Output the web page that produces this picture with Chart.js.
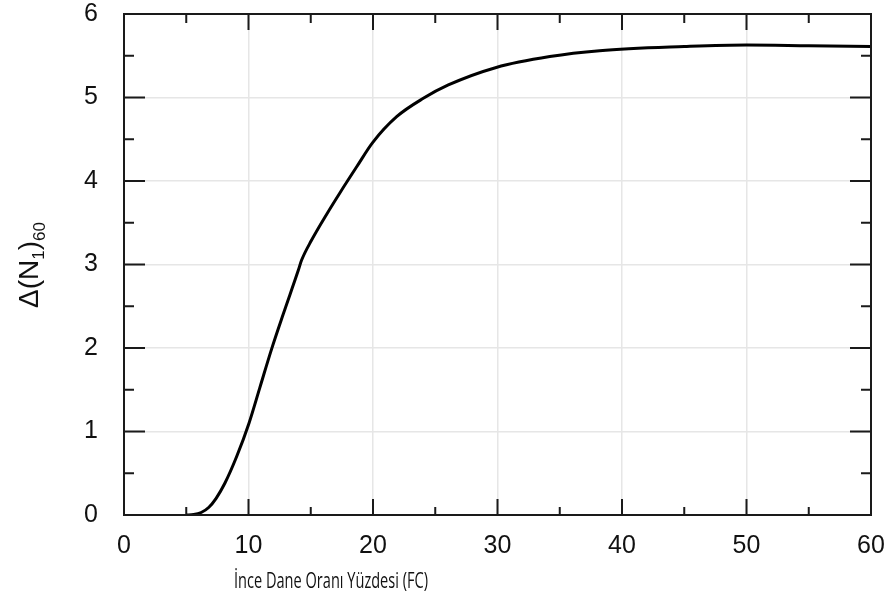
<!DOCTYPE html>
<html>
<head>
<meta charset="utf-8">
<script src="https://cdn.jsdelivr.net/npm/chart.js@4.4.1/dist/chart.umd.min.js"></script>
<style>
html,body{margin:0;padding:0;background:#fff;}
#wrap{width:892px;height:601px;position:relative;}
</style>
</head>
<body>
<div id="wrap"><canvas id="c" width="892" height="601"></canvas></div>
<script>
// Data
const fcValues = [5, 5.6, 6.2, 6.8, 7.4, 8.1, 9.05, 10.04, 10.9, 11.86, 12.8, 14.0, 14.26, 15.06, 16.27, 17.35, 18.69, 19.97, 21.9, 24.04, 26.05, 29.9, 34.2, 38.2, 45, 50, 55, 60];
const deltaN = [0, 0.005, 0.03, 0.09, 0.2, 0.38, 0.7, 1.1, 1.52, 1.99, 2.41, 2.93, 3.05, 3.29, 3.6, 3.86, 4.17, 4.46, 4.77, 4.99, 5.15, 5.36, 5.49, 5.56, 5.61, 5.63, 5.62, 5.61];
const xTickValues = [0, 10, 20, 30, 40, 50, 60];
const yTickValues = [0, 1, 2, 3, 4, 5, 6];
const xTitle = 'İnce Dane Oranı Yüzdesi (FC)';

const points = fcValues.map((x, i) => ({x: x, y: deltaN[i]}));

const tickFont = {family: '"Liberation Sans", Arial, sans-serif', size: 25};

function noPad(s) { s.paddingTop = 0; s.paddingBottom = 0; s.paddingLeft = 0; s.paddingRight = 0; }

const framePlugin = {
  id: 'frame',
  afterDatasetsDraw(chart) {
    const ctx = chart.ctx;
    const a = chart.chartArea;
    const xs = chart.scales.x, ys = chart.scales.y;
    ctx.save();
    ctx.strokeStyle = '#1a1a1a';
    ctx.lineWidth = 2;
    ctx.strokeRect(a.left, a.top, a.right - a.left, a.bottom - a.top);
    for (let i = 0; i < xTickValues.length; i++) {
      const v = xTickValues[i];
      const px = xs.getPixelForValue(v);
      ctx.beginPath();
      ctx.moveTo(px, a.bottom); ctx.lineTo(px, a.bottom - 16);
      ctx.moveTo(px, a.top); ctx.lineTo(px, a.top + 16);
      ctx.stroke();
      if (i < xTickValues.length - 1) {
        const m = xs.getPixelForValue((v + xTickValues[i + 1]) / 2);
        ctx.beginPath();
        ctx.moveTo(m, a.bottom); ctx.lineTo(m, a.bottom - 8);
        ctx.moveTo(m, a.top); ctx.lineTo(m, a.top + 9);
        ctx.stroke();
      }
    }
    for (let i = 0; i < yTickValues.length; i++) {
      const v = yTickValues[i];
      const py = ys.getPixelForValue(v);
      ctx.beginPath();
      ctx.moveTo(a.left, py); ctx.lineTo(a.left + 21, py);
      ctx.moveTo(a.right, py); ctx.lineTo(a.right - 21, py);
      ctx.stroke();
      if (i < yTickValues.length - 1) {
        const m = ys.getPixelForValue((v + yTickValues[i + 1]) / 2);
        ctx.beginPath();
        ctx.moveTo(a.left, m); ctx.lineTo(a.left + 10, m);
        ctx.moveTo(a.right, m); ctx.lineTo(a.right - 10, m);
        ctx.stroke();
      }
    }
    ctx.restore();
  },
  afterDraw(chart) {
    const ctx = chart.ctx;
    ctx.save();
    // x-axis title (condensed)
    ctx.fillStyle = '#111';
    ctx.font = '22px "Open Sans", sans-serif';
    ctx.textAlign = 'left';
    ctx.textBaseline = 'alphabetic';
    const w = ctx.measureText(xTitle).width;
    const k = 194 / w;
    ctx.translate(234, 588);
    ctx.scale(k, 1);
    ctx.fillText(xTitle, 0, 0);
    ctx.restore();

    // y-axis title with subscripts, rotated
    ctx.save();
    ctx.fillStyle = '#111';
    ctx.translate(38, 265);
    ctx.rotate(-Math.PI / 2);
    const big = '28px "Liberation Sans", Arial, sans-serif';
    const small = '17px "Liberation Sans", Arial, sans-serif';
    const parts = [
      {t: 'Δ(N', f: big, dy: 0},
      {t: '1', f: small, dy: 6},
      {t: ')', f: big, dy: 0},
      {t: '60', f: small, dy: 7}
    ];
    let total = 0;
    parts.forEach(p => { ctx.font = p.f; p.w = ctx.measureText(p.t).width; total += p.w; });
    let x = -total / 2;
    ctx.textAlign = 'left';
    parts.forEach(p => { ctx.font = p.f; ctx.fillText(p.t, x, p.dy); x += p.w; });
    ctx.restore();
  }
};

new Chart(document.getElementById('c'), {
  type: 'line',
  data: {
    datasets: [{
      data: points,
      borderColor: '#000',
      borderWidth: 3,
      pointRadius: 0,
      fill: false,
      cubicInterpolationMode: 'monotone'
    }]
  },
  options: {
    responsive: false,
    animation: false,
    devicePixelRatio: 1,
    layout: {padding: {top: 14, right: 21, left: 0, bottom: 0}},
    plugins: {legend: {display: false}, tooltip: {enabled: false}},
    scales: {
      x: {
        type: 'linear', min: 0, max: 60,
        afterBuildTicks(s) { s.ticks = xTickValues.map(v => ({value: v})); },
        afterFit(s) { s.height = 86; noPad(s); },
        ticks: {font: tickFont, color: '#111', padding: 16, maxRotation: 0},
        grid: {color: '#e6e6e6', lineWidth: 1.5, drawTicks: false},
        border: {display: false}
      },
      y: {
        type: 'linear', min: 0, max: 6,
        afterBuildTicks(s) { s.ticks = yTickValues.map(v => ({value: v})); },
        afterFit(s) { s.width = 124; noPad(s); },
        ticks: {font: tickFont, color: '#111', padding: 26},
        grid: {color: '#e6e6e6', lineWidth: 1.5, drawTicks: false},
        border: {display: false}
      }
    }
  },
  plugins: [framePlugin]
});
</script>
</body>
</html>
